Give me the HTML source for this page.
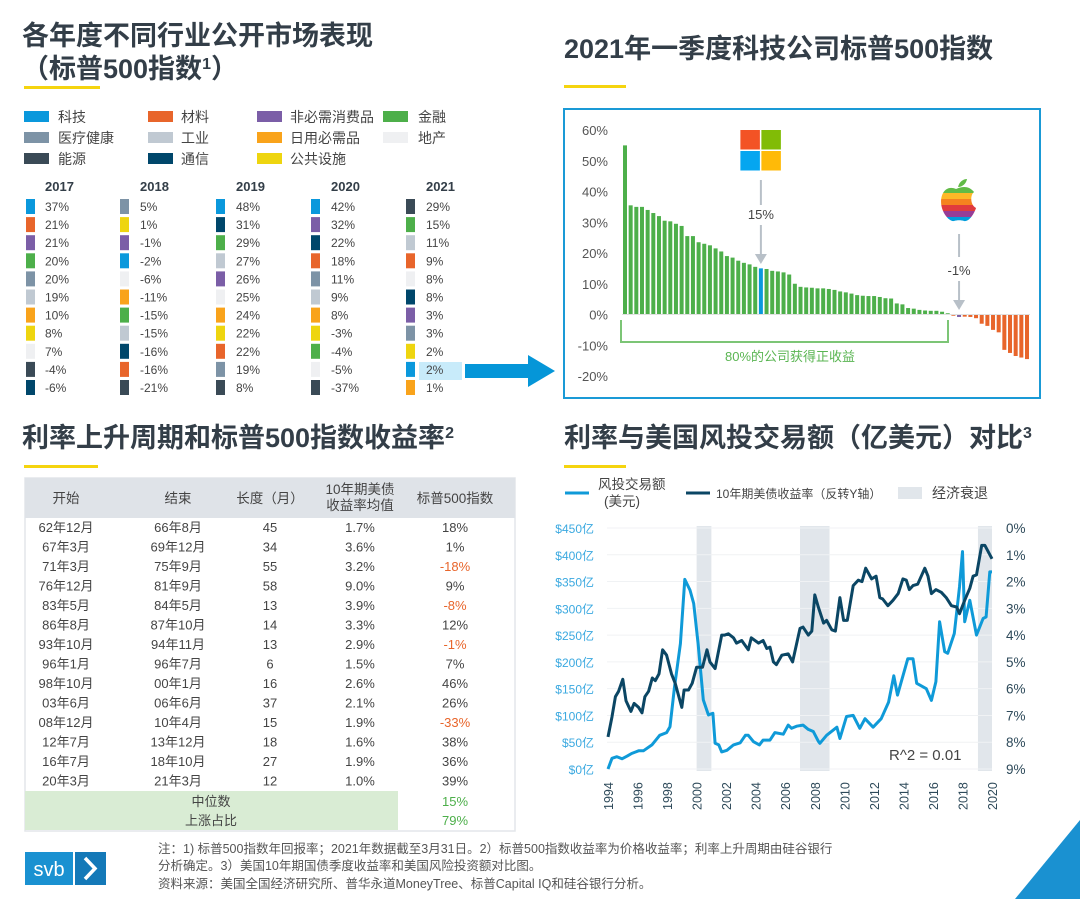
<!DOCTYPE html>
<html><head><meta charset="utf-8">
<style>
html,body{margin:0;padding:0;background:#fff;}
body{width:1080px;height:899px;overflow:hidden;font-family:"Liberation Sans","Noto Sans CJK SC",sans-serif;}
svg text{font-family:"Liberation Sans","Noto Sans CJK SC",sans-serif;}
</style></head>
<body>
<svg id="page" width="1080" height="899" viewBox="0 0 1080 899">
<!-- Titles -->
<g fill="#333e48" font-weight="bold" font-size="27">
<text x="22" y="45">各年度不同行业公开市场表现</text>
<text x="22" y="78">（标普500指数<tspan font-size="16" dy="-9">1</tspan><tspan dy="9">）</tspan></text>
<text x="564" y="58">2021年一季度科技公司标普500指数</text>
<text x="22" y="447">利率上升周期和标普500指数收益率<tspan font-size="16" dy="-9">2</tspan></text>
<text x="564" y="447">利率与美国风投交易额（亿美元）对比<tspan font-size="16" dy="-9">3</tspan></text>
</g>
<g fill="#f5d40f">
<rect x="24" y="86" width="76" height="3"/>
<rect x="564" y="85" width="62" height="3"/>
<rect x="24" y="465" width="74" height="3"/>
<rect x="564" y="465" width="62" height="3"/>
</g>
<g id="legend" font-size="14" fill="#444"></g>
<g id="sectorTable" font-size="12" fill="#444"></g>
<!-- big arrow -->
<path d="M465 364 L528 364 L528 355 L555 371 L528 387 L528 378 L465 378 Z" fill="#0596d8"/>

<!-- bar chart box -->
<rect x="564" y="109" width="476" height="289" fill="none" stroke="#1a9ad6" stroke-width="2"/>
<g id="barChart"></g>

<!-- rate table -->
<g id="rateTable" font-size="13" fill="#444"></g>

<!-- line chart -->
<g id="lineChart"></g>

<!-- footer -->
<rect x="25" y="852" width="48" height="33" fill="#1a91d1"/>
<text x="49" y="876" font-size="20" fill="#fff" text-anchor="middle">svb</text>
<rect x="75" y="852" width="31" height="33" fill="#1479b8"/>
<path d="M85 858 L95 868.5 L85 879" fill="none" stroke="#fff" stroke-width="3.5"/>
<g font-size="12.5" fill="#555">
<text x="158" y="853">注：1) 标普500指数年回报率；2021年数据截至3月31日。2）标普500指数收益率为价格收益率；利率上升周期由硅谷银行</text>
<text x="158" y="870">分析确定。3）美国10年期国债季度收益率和美国风险投资额对比图。</text>
<text x="158" y="888">资料来源：美国全国经济研究所、普华永道MoneyTree、标普Capital IQ和硅谷银行分析。</text>
</g>
<path d="M1015 899 L1080 820 L1080 899 Z" fill="#1a91d1"/>
</svg>
<script>
const NS='http://www.w3.org/2000/svg';
function mk(parent,tag,attrs,txt){const e=document.createElementNS(NS,tag);for(const k in attrs)e.setAttribute(k,attrs[k]);if(txt!==undefined)e.textContent=txt;parent.appendChild(e);return e;}
const C={tech:'#0a98dc',mat:'#e8652b',disc:'#7b5ea7',fin:'#4daf4a',health:'#7d93a6',ind:'#c0c9d2',stap:'#f9a31b',re:'#eff0f2',energy:'#3a4a56',comm:'#00476b',util:'#eed50f'};

// ===== Sector legend =====
const legendNames=['科技','材料','非必需消费品','金融','医疗健康','工业','日用必需品','地产','能源','通信','公共设施'];
const legendKeys=['tech','mat','disc','fin','health','ind','stap','re','energy','comm','util'];
const lg=document.getElementById('legend');
const lgX=[24,148,257,383],lgTX=[58,181,290,418];
legendNames.forEach((n,i)=>{const r=Math.floor(i/4),c=i%4;const y=111+r*21;
 const s=mk(lg,'rect',{x:lgX[c],y:y,width:25,height:11,fill:C[legendKeys[i]]});
 
 
 const t=mk(lg,'text',{x:lgTX[c],y:y+11},n);
 
 
});

// ===== Sector yearly table =====
const years=['2017','2018','2019','2020','2021'];
const sectorOrder=[
 ['tech','mat','disc','fin','health','ind','stap','util','re','energy','comm'],
 ['health','util','disc','tech','re','stap','fin','ind','comm','mat','energy'],
 ['tech','comm','fin','ind','disc','re','stap','util','mat','health','energy'],
 ['tech','disc','comm','mat','health','ind','stap','util','fin','re','energy'],
 ['energy','fin','ind','mat','re','comm','disc','health','util','tech','stap']];
const sectorReturns=[
 ['37%','21%','21%','20%','20%','19%','10%','8%','7%','-4%','-6%'],
 ['5%','1%','-1%','-2%','-6%','-11%','-15%','-15%','-16%','-16%','-21%'],
 ['48%','31%','29%','27%','26%','25%','24%','22%','22%','19%','8%'],
 ['42%','32%','22%','18%','11%','9%','8%','-3%','-4%','-5%','-37%'],
 ['29%','15%','11%','9%','8%','8%','3%','3%','2%','2%','1%']];
const st=document.getElementById('sectorTable');
const colSw=[26,120,216,311,406],colTx=[45,140,236,331,426];
mk(st,'rect',{x:419,y:362,width:43,height:18,fill:'#c8ebfa',});
years.forEach((yr,c)=>{
 const h=mk(st,'text',{x:colTx[c],y:191,'font-weight':'bold','font-size':'13','fill':'#333e48'},yr);
 
 
 sectorOrder[c].forEach((k,r)=>{const y=199+r*18.1;
  const s=mk(st,'rect',{x:colSw[c],y:y,width:9,height:15,fill:C[k]});
  
  
  const t=mk(st,'text',{x:colTx[c],y:y+12},sectorReturns[c][r]);
  
  
 });
});

// ===== Tech bar chart =====
const techReturns=[55,35.5,35,35,34,33,32,30.5,30.3,29.5,28.8,25.5,25.5,23.5,23,22.5,21.5,20.5,19,18.5,17.5,16.8,16.3,15.5,15,14.8,14.2,14,13.7,13,10,9,8.8,8.7,8.5,8.5,8.3,8,7.5,7.2,6.8,6.3,6.1,6,6,5.7,5.3,5.2,3.6,3.3,2.1,1.9,1.5,1.3,1.2,1.2,0.9,0.4,-0.4,-0.8,-0.7,-0.8,-1.2,-3,-3.7,-5,-5.8,-11.5,-12.5,-13.5,-14,-14.5];
const msftIndex=24, appleIndex=59;
const bTicks=[60,50,40,30,20,10,0,-10,-20];
const bc=document.getElementById('barChart');
const by=v=>314.5-v*3.075;
const bx0=625,bx1=1027,bstep=(bx1-bx0)/(techReturns.length-1);
const bx=i=>bx0+i*bstep;
bTicks.forEach(t=>{const e=mk(bc,'text',{x:608,y:by(t)+5,'text-anchor':'end','font-size':'13',fill:'#555'},t+'%');
 
 });
techReturns.forEach((v,i)=>{
 let col=v>=0?'#4daf4a':'#e8652b'; if(i===msftIndex)col='#0a98dc'; if(i===appleIndex)col='#7b5ea7';
 const y0=by(Math.max(v,0)),h=Math.max(Math.abs(v)*3.075,1);
 const r=mk(bc,'rect',{x:bx(i)-2,y:y0,width:4,height:h,fill:col});
 
 
});
mk(bc,'line',{x1:622,x2:1030,y1:314.5,y2:314.5,stroke:'#e0e0e0','stroke-width':1,});
// MSFT logo & arrow
const mx=bx(msftIndex);
[[0,0,'#f35325'],[21,0,'#81bc06'],[0,21,'#05a6f0'],[21,21,'#ffba08']].forEach((q,k)=>{
 const e=mk(bc,'rect',{x:mx-21+q[0]+0.5,y:130+q[1],width:19.5,height:19.5,fill:q[2]});
 
 });
mk(bc,'line',{x1:mx,x2:mx,y1:180,y2:205,stroke:'#b8c0c8','stroke-width':2,});
mk(bc,'text',{x:mx,y:219,'text-anchor':'middle','font-size':'13',fill:'#444',},'15%');
mk(bc,'line',{x1:mx,x2:mx,y1:225,y2:256,stroke:'#b8c0c8','stroke-width':2,});
mk(bc,'path',{d:`M${mx-6} 254 L${mx+6} 254 L${mx} 264 Z`,fill:'#b8c0c8',});
// Apple logo & arrow
const ax=bx(appleIndex);
const ag=mk(bc,'g',{});
const stripes=['#61bb46','#fdb827','#f5821f','#e03a3e','#963d97','#009ddc'];
const clip=mk(ag,'clipPath',{id:'appleClip'});
mk(clip,'path',{d:`M${ax-3} 189 C${ax-12} 185 ${ax-18} 192 ${ax-18} 202 C${ax-18} 212 ${ax-10} 222 ${ax-5} 221 C${ax-2} 220 ${ax+2} 220 ${ax+5} 221 C${ax+10} 222 ${ax+15} 214 ${ax+17} 208 C${ax+11} 205 ${ax+11} 195 ${ax+15} 192 C${ax+10} 186 ${ax+4} 186 ${ax-3} 189 Z`});
stripes.forEach((c,k)=>mk(ag,'rect',{x:ax-20,y:187+k*6,width:40,height:6,fill:c,'clip-path':'url(#appleClip)'}));
mk(ag,'path',{d:`M${ax-1} 187 C${ax} 182 ${ax+4} 179 ${ax+8} 179 C${ax+7} 184 ${ax+3} 187 ${ax-1} 187 Z`,fill:'#61bb46'});
mk(bc,'line',{x1:ax,x2:ax,y1:234,y2:257,stroke:'#b8c0c8','stroke-width':2,});
mk(bc,'text',{x:ax,y:275,'text-anchor':'middle','font-size':'13',fill:'#444',},'-1%');
mk(bc,'line',{x1:ax,x2:ax,y1:281,y2:302,stroke:'#b8c0c8','stroke-width':2,});
mk(bc,'path',{d:`M${ax-6} 300 L${ax+6} 300 L${ax} 310 Z`,fill:'#b8c0c8',});
// bracket
mk(bc,'path',{d:'M621 320 L621 342 L948 342 L948 320',fill:'none',stroke:'#7cc576','stroke-width':2,});
mk(bc,'text',{x:790,y:361,'text-anchor':'middle','font-size':'13',fill:'#5ab552',},'80%的公司获得正收益');

// ===== Rate cycle table =====
const rtHeaders=['开始','结束','长度（月）','10年期美债|收益率均值','标普500指数'];
const rtStart=['62年12月','67年3月','71年3月','76年12月','83年5月','86年8月','93年10月','96年1月','98年10月','03年6月','08年12月','12年7月','16年7月','20年3月'];
const rtEnd=['66年8月','69年12月','75年9月','81年9月','84年5月','87年10月','94年11月','96年7月','00年1月','06年6月','10年4月','13年12月','18年10月','21年3月'];
const rtMonths=[45,34,55,58,13,14,13,6,16,37,15,18,27,12];
const rtYield=['1.7%','3.6%','3.2%','9.0%','3.9%','3.3%','2.9%','1.5%','2.6%','2.1%','1.9%','1.6%','1.9%','1.0%'];
const rtSP=[18,1,-18,9,-8,12,-1,7,46,26,-33,38,36,39];
const rt=document.getElementById('rateTable');
const colC=[66,178,270,360,455];
mk(rt,'rect',{x:25,y:478,width:490,height:353,fill:'#fff',stroke:'#e3e6ea','stroke-width':1.5,});
mk(rt,'rect',{x:25,y:478,width:490,height:40,fill:'#dfe3e8',});
rtHeaders.forEach((h,i)=>{const parts=h.split('|');
 parts.forEach((p,k)=>{const t=mk(rt,'text',{x:colC[i],y:(parts.length>1?494+k*16:503),'text-anchor':'middle','font-size':'13.5',fill:'#444'},p);
  
  });
});
rtStart.forEach((s,r)=>{const y=532+r*19.5;
 const cells=[s,rtEnd[r],String(rtMonths[r]),rtYield[r],rtSP[r]+'%'];
 cells.forEach((c,i)=>{const t=mk(rt,'text',{x:colC[i],y:y,'text-anchor':'middle',fill:(i===4&&rtSP[r]<0)?'#e8652b':'#444'},c);
  
  });
});
mk(rt,'rect',{x:25,y:791,width:373,height:39,fill:'#d9ecd4',});
mk(rt,'text',{x:211,y:806,'text-anchor':'middle',fill:'#444',},'中位数');
mk(rt,'text',{x:211,y:825,'text-anchor':'middle',fill:'#444',},'上涨占比');
mk(rt,'text',{x:455,y:806,'text-anchor':'middle',fill:'#4daf4a',},'15%');
mk(rt,'text',{x:455,y:825,'text-anchor':'middle',fill:'#4daf4a',},'79%');

// ===== Line chart =====
const vcYears=[1994,1994.27,1994.6,1994.95,1995.3,1995.6,1996.07,1996.4,1996.97,1997.5,1997.97,1998.2,1998.5,1998.9,1999.2,1999.55,1999.8,2000.1,2000.45,2000.8,2001.1,2001.25,2001.5,2001.7,2002.05,2002.5,2002.95,2003.3,2003.5,2003.85,2004.25,2004.5,2004.97,2005.3,2005.87,2006.2,2006.43,2006.77,2007.2,2007.56,2007.9,2008.24,2008.35,2008.8,2009.5,2009.7,2010.15,2010.6,2011.05,2011.4,2011.95,2012.5,2013.0,2013.35,2013.6,2014.3,2014.65,2014.9,2015.55,2015.9,2016.2,2016.45,2016.8,2017.0,2017.45,2017.8,2018.0,2018.15,2018.5,2018.95,2019.4,2019.6,2019.85,2020.0];
const vcValues=[0,20,23,19,24,29,34,34,45,63,68,79,153,234,354,334,309,234,129,101,104,48,45,32,35,45,49,63,63,51,45,54,54,68,65,82,76,80,82,74,70,52,48,63,78,57,98,100,76,94,78,94,125,174,138,206,206,160,150,128,163,275,219,216,253,340,406,275,315,250,281,284,368,368];
const yYears=[1994,1994.27,1994.5,1994.72,1995.0,1995.22,1995.55,1995.77,1996.07,1996.3,1996.5,1996.75,1997.0,1997.2,1997.45,1997.7,1997.97,1998.3,1998.55,1999.0,1999.15,1999.45,1999.7,2000.0,2000.4,2000.7,2000.9,2001.25,2001.7,2001.9,2002.15,2002.5,2002.7,2003.05,2003.5,2003.7,2004.2,2004.5,2004.75,2004.97,2005.2,2005.4,2005.77,2006.2,2006.5,2007.0,2007.2,2007.56,2007.8,2008.0,2008.24,2008.6,2008.8,2009.15,2009.4,2009.7,2009.95,2010.2,2010.6,2010.95,2011.2,2011.45,2011.85,2012.15,2012.4,2012.6,2012.95,2013.3,2013.65,2013.97,2014.2,2014.4,2014.65,2014.97,2015.45,2015.67,2015.9,2016.2,2016.57,2016.9,2017.25,2017.6,2017.8,2018.15,2018.5,2018.72,2018.95,2019.3,2019.52,2020.0];
const yValues=[7.8,7.05,6.3,6.1,5.65,6.45,6.85,6.55,6.7,6.9,6.3,6.1,5.6,5.7,5.45,4.55,4.75,5.45,5.8,6.7,6.05,6.05,5.8,5.2,5.2,4.55,5.0,5.25,4.0,4.0,3.95,4.1,4.3,4.2,4.55,4.1,4.3,4.2,4.5,4.45,5.0,5.1,4.75,4.7,5.0,3.75,3.7,4.0,3.85,2.5,2.95,3.55,3.45,3.8,3.85,2.6,3.45,3.45,2.15,1.95,2.0,1.5,1.9,1.8,2.6,2.65,2.9,2.7,2.45,1.9,1.95,2.3,2.15,2.1,1.5,1.8,2.45,2.3,2.4,2.6,2.9,2.95,3.2,2.7,2.25,1.8,1.75,0.65,0.65,1.15];
const recessions=[[2000.0,2001.0],[2007.0,2009.0],[2019.05,2020.0]];
const vcTicks=[0,50,100,150,200,250,300,350,400,450];
const yTicks=[0,1,2,3,4,5,6,7,8,9];
const xTicks=[1994,1996,1998,2000,2002,2004,2006,2008,2010,2012,2014,2016,2018,2020];
const lc=document.getElementById('lineChart');
const lx=yr=>608+(yr-1994)*(384/26);
const lyV=v=>769-v/450*241;
const lyR=p=>528+p/9*241;
recessions.forEach(r=>{const e=mk(lc,'rect',{x:lx(r[0]),y:526,width:lx(r[1])-lx(r[0]),height:245,fill:'#e1e6eb'});
 
 });
vcTicks.forEach(t=>{const y=lyV(t);
 const g=mk(lc,'line',{x1:607,x2:992,y1:y,y2:y,stroke:'#f0f2f4','stroke-width':1});
 
 
 const e=mk(lc,'text',{x:594,y:y+5,'text-anchor':'end','font-size':'12',fill:'#3ba9e0'},'$'+t+'亿');
 
 });
yTicks.forEach(t=>{const e=mk(lc,'text',{x:1006,y:lyR(t)+5,'font-size':'13.5',fill:'#2e4a5a'},t+'%');
 
 });
xTicks.forEach(t=>{const x=lx(t);const e=mk(lc,'text',{x:0,y:0,transform:`translate(${x+5},810) rotate(-90)`,'font-size':'12.5',fill:'#2e4a5a'},String(t));
 
 });
const vcPath=vcYears.map((y,i)=>(i?'L':'M')+lx(y).toFixed(1)+' '+lyV(vcValues[i]).toFixed(1)).join(' ');
const yPath=yYears.map((y,i)=>(i?'L':'M')+lx(y).toFixed(1)+' '+lyR(yValues[i]).toFixed(1)).join(' ');
const p1=mk(lc,'path',{d:vcPath,fill:'none',stroke:'#0f9ad8','stroke-width':3,'stroke-linejoin':'round'});


const p2=mk(lc,'path',{d:yPath,fill:'none',stroke:'#0b4664','stroke-width':3,'stroke-linejoin':'round'});


mk(lc,'text',{x:889,y:760,'font-size':'15',fill:'#444',},'R^2 = 0.01');
// legend
mk(lc,'line',{x1:565,x2:589,y1:493,y2:493,stroke:'#0f9ad8','stroke-width':3,});
mk(lc,'text',{x:598,y:489,'font-size':'13.5',fill:'#444',},'风投交易额');
mk(lc,'text',{x:604,y:506,'font-size':'13.5',fill:'#444',},'(美元)');
mk(lc,'line',{x1:686,x2:710,y1:493,y2:493,stroke:'#0b4664','stroke-width':3,});
mk(lc,'text',{x:716,y:498,'font-size':'12',fill:'#444',},'10年期美债收益率（反转Y轴）');
mk(lc,'rect',{x:898,y:487,width:24,height:12,fill:'#e1e6eb',});
mk(lc,'text',{x:932,y:498,'font-size':'14',fill:'#444',},'经济衰退');
</script>
</body></html>
